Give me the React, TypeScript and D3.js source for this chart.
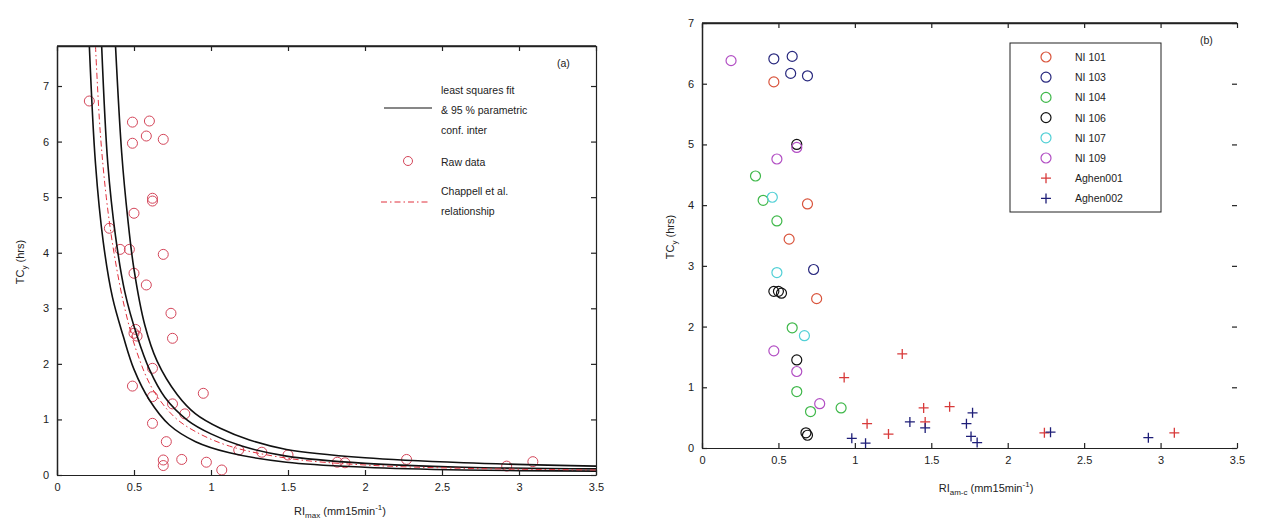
import * as d3 from 'd3'
import { useEffect, useRef } from 'react';

// panel (a): raw data and fitted curves
const rawData: [number, number][] = [
    [0.21,6.73],[0.49,6.35],[0.60,6.37],[0.49,5.97],[0.58,6.10],[0.69,6.04],[0.62,4.98],[0.62,4.93],
    [0.50,4.71],[0.34,4.44],[0.41,4.06],[0.47,4.06],[0.69,3.97],[0.50,3.63],[0.58,3.42],[0.74,2.91],
    [0.51,2.62],[0.50,2.55],[0.52,2.50],[0.75,2.46],[0.62,1.92],[0.49,1.60],[0.95,1.47],[0.62,1.41],
    [0.75,1.28],[0.83,1.10],[0.62,0.93],[0.71,0.60],[0.69,0.27],[0.69,0.17],[0.81,0.28],[0.97,0.23],
    [1.07,0.09],[1.18,0.45],[1.33,0.41],[1.50,0.36],[1.82,0.23],[1.87,0.22],[2.27,0.28],[2.92,0.16],[3.09,0.24]
];
const fitUpper: [number, number][] = [[0.38,7.72],[0.42,5.8],[0.46,4.6],[0.50,3.7],[0.57,2.7],[0.65,2.05],[0.78,1.45],[0.90,1.1],[1.06,0.84],[1.25,0.63],[1.49,0.46],[2.0,0.31],[2.64,0.22],[3.5,0.16]];
const fitMid: [number, number][] = [[0.29,7.72],[0.33,5.6],[0.38,4.3],[0.44,3.3],[0.52,2.5],[0.60,1.9],[0.70,1.4],[0.85,0.98],[1.0,0.74],[1.2,0.52],[1.49,0.34],[2.0,0.21],[2.64,0.14],[3.5,0.11]];
const fitLower: [number, number][] = [[0.21,7.72],[0.25,5.6],[0.30,4.2],[0.36,3.2],[0.43,2.5],[0.50,1.9],[0.60,1.35],[0.73,0.9],[0.90,0.6],[1.12,0.40],[1.49,0.23],[2.0,0.14],[2.64,0.09],[3.5,0.07]];
const chappell: [number, number][] = [[0.25,7.72],[0.28,6.2],[0.32,5.0],[0.37,4.0],[0.44,3.0],[0.52,2.2],[0.62,1.55],[0.76,1.05],[0.90,0.78],[1.12,0.52],[1.5,0.30],[2.0,0.18],[2.64,0.12],[3.5,0.09]];

// panel (b): one list per catchment
const ni101: [number, number][] = [[0.47,6.03],[0.69,4.02],[0.57,3.44],[0.75,2.46]];
const ni103: [number, number][] = [[0.47,6.41],[0.59,6.45],[0.58,6.17],[0.69,6.13],[0.73,2.94]];
const ni104: [number, number][] = [[0.35,4.48],[0.40,4.08],[0.49,3.74],[0.59,1.98],[0.62,0.93],[0.71,0.60],[0.91,0.66]];
const ni106: [number, number][] = [[0.62,5.0],[0.47,2.58],[0.50,2.58],[0.52,2.55],[0.62,1.45],[0.68,0.25],[0.69,0.21]];
const ni107: [number, number][] = [[0.46,4.13],[0.49,2.89],[0.67,1.85]];
const ni109: [number, number][] = [[0.19,6.38],[0.62,4.95],[0.49,4.76],[0.47,1.60],[0.62,1.26],[0.77,0.73]];
const aghen001: [number, number][] = [[1.31,1.55],[0.93,1.16],[1.08,0.40],[1.22,0.23],[1.45,0.66],[1.46,0.43],[1.62,0.68],[2.24,0.25],[3.09,0.25]];
const aghen002: [number, number][] = [[0.98,0.16],[1.07,0.08],[1.36,0.43],[1.46,0.33],[1.77,0.58],[1.73,0.40],[1.76,0.19],[1.80,0.09],[2.28,0.26],[2.92,0.17]];

const xTicks = [0, 0.5, 1, 1.5, 2, 2.5, 3, 3.5];
const yTicks = [0, 1, 2, 3, 4, 5, 6, 7];
const legendA = ["least squares fit", "& 95 % parametric", "conf. inter", "Raw data", "Chappell et al.", "relationship"];
const legendB = ["NI 101", "NI 103", "NI 104", "NI 106", "NI 107", "NI 109", "Aghen001", "Aghen002"];

const FONT = "'Liberation Sans', Arial, sans-serif";

function drawAxes(svg: any, x: any, y: any, l: number, r: number, t: number, b: number, rightLine: boolean) {
    const fmt = (d: any) => String(+d);
    const gx = svg.append("g").attr("transform", `translate(0,${b})`)
        .call(d3.axisBottom(x).tickValues(xTicks).tickFormat(fmt).tickSize(-5).tickSizeOuter(0).tickPadding(8));
    const gy = svg.append("g").attr("transform", `translate(${l},0)`)
        .call(d3.axisLeft(y).tickValues(yTicks).tickFormat(fmt).tickSize(-5).tickSizeOuter(0).tickPadding(8));
    const gt = svg.append("g").attr("transform", `translate(0,${t})`)
        .call(d3.axisBottom(x).tickValues(xTicks).tickFormat(() => "").tickSize(5).tickSizeOuter(0));
    const gr = svg.append("g").attr("transform", `translate(${r},0)`)
        .call(d3.axisLeft(y).tickValues(yTicks).tickFormat(() => "").tickSize(5).tickSizeOuter(0));
    if (!rightLine) gr.select(".domain").remove();
    [gx, gy, gt, gr].forEach(g => {
        g.selectAll("path,line").attr("stroke", "#222").attr("stroke-width", 1.2);
        g.selectAll("text").attr("font-family", FONT).attr("font-size", 11).attr("fill", "#222");
    });
    gt.select(".domain").attr("stroke-width", 1.5);
    gy.select(".domain").attr("stroke-width", 1.5);
    svg.append("line").attr("x1", l).attr("x2", r).attr("y1", t).attr("y2", t).attr("stroke", "#222").attr("stroke-width", 1.5);
}

// axis title with sub/superscript pieces, shifted with dy
function label(svg: any, x: number, y: number, rot: number, parts: [string, string][]) {
    const t = svg.append("text").attr("transform", `translate(${x},${y}) rotate(${rot})`)
        .attr("text-anchor", "middle").attr("font-family", FONT).attr("font-size", 11).attr("fill", "#222");
    let shift = 0;
    parts.forEach(([s, kind]) => {
        const want = kind === "sub" ? 3 : kind === "sup" ? -5 : 0;
        const sp = t.append("tspan").text(s).attr("dy", want - shift);
        shift = want;
        if (kind) sp.attr("font-size", 8);
    });
}

function makeChart(el: SVGSVGElement) {
    const svg = d3.select(el);
    svg.selectAll("*").remove();

    // ---- panel (a)
    const xa = d3.scaleLinear().domain([0, 3.5]).range([57, 596]);
    const ya = d3.scaleLinear().domain([0, 7.72]).range([475, 46]);
    const clipA = svg.append("clipPath").attr("id", "clipA");
    clipA.append("rect").attr("x", 57).attr("y", 46).attr("width", 539).attr("height", 429);

    const line = d3.line<[number, number]>().x(d => xa(d[0])).y(d => ya(d[1])).curve(d3.curveCatmullRom.alpha(0.5));
    const plotA = svg.append("g").attr("clip-path", "url(#clipA)");
    plotA.selectAll("circle").data(rawData).enter().append("circle")
        .attr("cx", d => xa(d[0])).attr("cy", d => ya(d[1])).attr("r", 5)
        .attr("fill", "none").attr("stroke", "#d4465a").attr("stroke-width", 1);
    [fitUpper, fitMid, fitLower].forEach(c => {
        plotA.append("path").attr("d", line(c)).attr("fill", "none").attr("stroke", "#111").attr("stroke-width", 1.6);
    });
    plotA.append("path").attr("d", line(chappell)).attr("fill", "none")
        .attr("stroke", "#e0303c").attr("stroke-width", 1).attr("stroke-dasharray", "6,3,1.5,3");
    drawAxes(svg, xa, ya, 57, 596, 46, 475, true);

    // legend (a)
    const lg = svg.append("g").attr("font-family", FONT).attr("font-size", 10.5).attr("fill", "#222");
    const ly = [90, 110, 130, 162, 191, 211];
    legendA.forEach((s, i) => lg.append("text").attr("x", 441).attr("y", ly[i] + 4).text(s));
    lg.append("line").attr("x1", 384).attr("x2", 432).attr("y1", 108).attr("y2", 108).attr("stroke", "#111").attr("stroke-width", 1.2);
    lg.append("circle").attr("cx", 408).attr("cy", 161).attr("r", 4.5).attr("fill", "none").attr("stroke", "#d4465a");
    lg.append("line").attr("x1", 381).attr("x2", 430).attr("y1", 202).attr("y2", 202)
        .attr("stroke", "#e0303c").attr("stroke-dasharray", "6,3,1.5,3");
    lg.append("text").attr("x", 557).attr("y", 67).text("(a)");

    label(svg, 24, 262, -90, [["TC", ""], ["y", "sub"], ["  (hrs)", ""]]);
    label(svg, 340, 515, 0, [["RI", ""], ["max", "sub"], ["  (mm15min", ""], ["-1", "sup"], [")", ""]]);

    // ---- panel (b)
    const xb = d3.scaleLinear().domain([0, 3.5]).range([702, 1237]);
    const yb = d3.scaleLinear().domain([0, 7]).range([448, 23]);
    const series = [
        { name: legendB[0], data: ni101, color: "#d9543c", sym: "o" },
        { name: legendB[1], data: ni103, color: "#28287e", sym: "o" },
        { name: legendB[2], data: ni104, color: "#3fb84a", sym: "o" },
        { name: legendB[3], data: ni106, color: "#111111", sym: "o" },
        { name: legendB[4], data: ni107, color: "#52d0d6", sym: "o" },
        { name: legendB[5], data: ni109, color: "#b24fc4", sym: "o" },
        { name: legendB[6], data: aghen001, color: "#d83a3a", sym: "+" },
        { name: legendB[7], data: aghen002, color: "#1e1e78", sym: "+" },
    ];
    const mark = (g: any, cx: number, cy: number, s: any) => {
        if (s.sym === "o") {
            g.append("circle").attr("cx", cx).attr("cy", cy).attr("r", 5)
                .attr("fill", "none").attr("stroke", s.color).attr("stroke-width", 1.2);
        } else {
            g.append("path").attr("d", `M${cx - 5},${cy}H${cx + 5}M${cx},${cy - 5}V${cy + 5}`)
                .attr("stroke", s.color).attr("stroke-width", 1.3);
        }
    };
    const plotB = svg.append("g");
    series.forEach(s => s.data.forEach(d => mark(plotB, xb(d[0]), yb(d[1]), s)));
    drawAxes(svg, xb, yb, 702, 1237, 23, 448, false);

    // legend (b)
    const lb = svg.append("g").attr("font-family", FONT).attr("font-size", 10.5).attr("fill", "#222");
    lb.append("rect").attr("x", 1010).attr("y", 43).attr("width", 151).attr("height", 169)
        .attr("fill", "white").attr("stroke", "#222").attr("stroke-width", 1);
    series.forEach((s, i) => {
        const yy = 57 + i * 20.2;
        mark(lb, 1046, yy, s);
        lb.append("text").attr("x", 1075).attr("y", yy + 4).text(s.name);
    });
    lb.append("text").attr("x", 1200).attr("y", 44).text("(b)");

    label(svg, 674, 237, -90, [["TC", ""], ["y", "sub"], ["  (hrs)", ""]]);
    label(svg, 986, 492, 0, [["RI", ""], ["am-c", "sub"], ["  (mm15min", ""], ["-1", "sup"], [")", ""]]);
}

function App() {
    const ref = useRef<SVGSVGElement>(null);
    useEffect(() => {
        if (ref.current) makeChart(ref.current);
    });

    return (
        <svg ref={ref} width="1261" height="523"
            style={{ position: "absolute", left: 0, top: 0, background: "white" }}>
        </svg>
    );
}

export default App;
